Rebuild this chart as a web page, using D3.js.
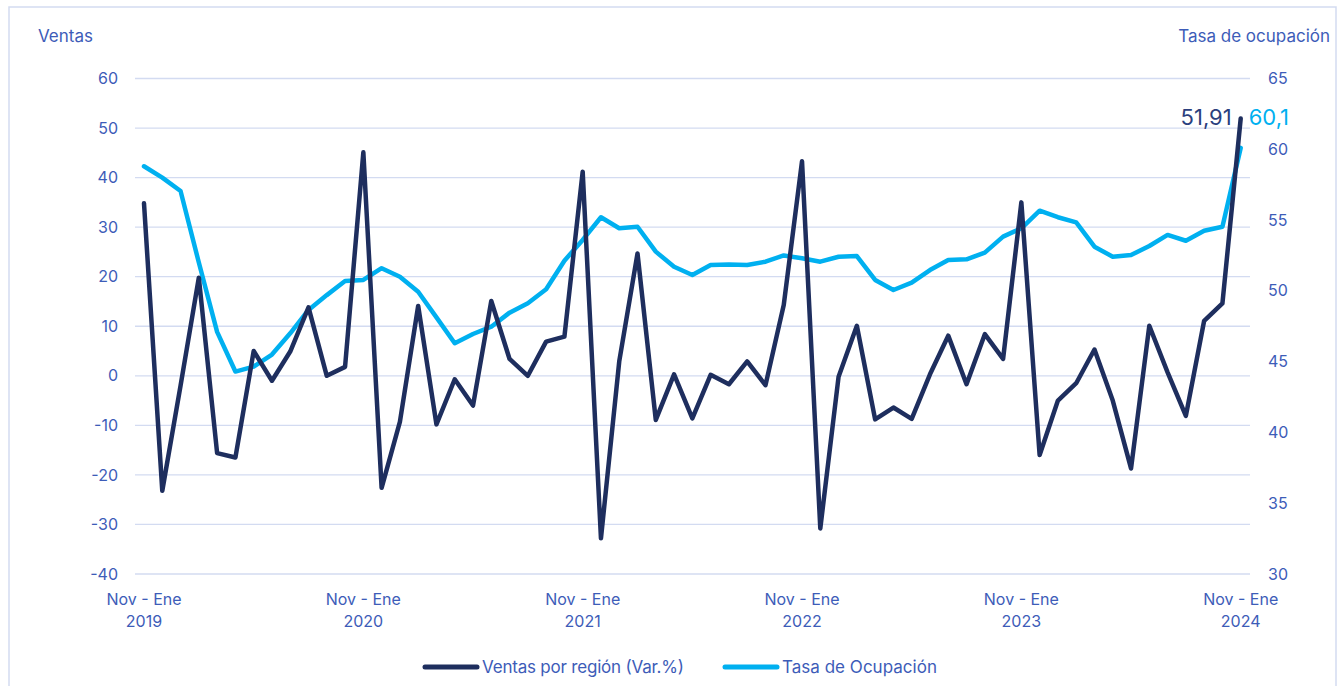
<!DOCTYPE html>
<html>
<head>
<meta charset="utf-8">
<script src="https://cdn.jsdelivr.net/npm/d3@7"></script>
<style>
  body { margin: 0; background: #fff; }
  text { font-family: Inter, "Liberation Sans", sans-serif; }
</style>
</head>
<body>
<svg width="1342" height="686"></svg>
<script>
// ventas por region, var.% (nov-ene 2019 .. nov-ene 2024, monthly)
var ventas = [34.8, -23.2, -2, 19.8, -15.6, -16.5, 5.0, -1.0, 4.9, 13.8, 0, 1.8,
  45.1, -22.6, -9.3, 14.1, -9.8, -0.7, -6.0, 15.1, 3.4, 0, 6.9, 7.9,
  41.2, -32.8, 2.9, 24.7, -8.9, 0.3, -8.6, 0.2, -1.7, 2.9, -1.9, 14.3,
  43.3, -30.8, -0.2, 10.1, -8.8, -6.4, -8.7, 0.3, 8.1, -1.7, 8.4, 3.4,
  35.0, -16.0, -5.0, -1.5, 5.3, -5.0, -18.7, 10.1, 0.7, -8.1, 11.1, 14.6,
  51.91];

// tasa de ocupacion
var tasa = [58.8, 58.0, 57.05, 52.0, 47.1, 44.3, 44.65, 45.5, 47.0, 48.65, 49.7, 50.7,
  50.77, 51.6, 51.0, 49.94, 48.13, 46.3, 46.95, 47.47, 48.46, 49.12, 50.11, 52.13,
  53.6, 55.2, 54.42, 54.53, 52.77, 51.7, 51.12, 51.83, 51.87, 51.83, 52.06, 52.5,
  52.3, 52.06, 52.41, 52.46, 50.77, 50.06, 50.58, 51.47, 52.18, 52.23, 52.7, 53.83,
  54.42, 55.66, 55.2, 54.84, 53.12, 52.41, 52.53, 53.17, 53.95, 53.54, 54.25, 54.53,
  60.1];

var xTickIdx = [0, 12, 24, 36, 48, 60];
var xTickLabels = [["Nov - Ene", "2019"], ["Nov - Ene", "2020"], ["Nov - Ene", "2021"],
  ["Nov - Ene", "2022"], ["Nov - Ene", "2023"], ["Nov - Ene", "2024"]];
var leftTicks = [60, 50, 40, 30, 20, 10, 0, -10, -20, -30, -40];
var rightTicks = [65, 60, 55, 50, 45, 40, 35, 30];

var svg = d3.select("svg");
var navy = "#1e2e5e", cyan = "#00b0f0", txt = "#3d5cb8", grid = "#d3dbf1";

svg.append("rect")
  .attr("x", 9).attr("y", 7).attr("width", 1327).attr("height", 690)
  .attr("fill", "none").attr("stroke", grid).attr("stroke-width", 1.5);

var x = d3.scaleLinear().domain([0, 60]).range([144, 1240.7]);
var yL = d3.scaleLinear().domain([-40, 60]).range([574, 78.5]);
var yR = d3.scaleLinear().domain([30, 65]).range([574, 78.5]);

// gridlines
svg.append("g").selectAll("line")
  .data(leftTicks).enter().append("line")
  .attr("x1", 135).attr("x2", 1250)
  .attr("y1", function(d) { return yL(d); })
  .attr("y2", function(d) { return yL(d); })
  .attr("stroke", grid).attr("stroke-width", 1.3);

var plain = function(d) { return String(d); };

// left axis
var gl = svg.append("g").attr("transform", "translate(118,0)")
  .call(d3.axisLeft(yL).tickValues(leftTicks).tickFormat(plain).tickSize(0).tickPadding(0));
gl.select(".domain").remove();
gl.selectAll("text").attr("fill", txt).attr("font-size", 16)
  .style("font-family", "Inter, sans-serif");

// right axis
var gr = svg.append("g").attr("transform", "translate(1268,0)")
  .call(d3.axisRight(yR).tickValues(rightTicks).tickFormat(plain).tickSize(0).tickPadding(0));
gr.select(".domain").remove();
gr.selectAll("text").attr("fill", txt).attr("font-size", 16)
  .style("font-family", "Inter, sans-serif");

// x labels
var xl = svg.append("g").selectAll("text")
  .data(xTickIdx).enter().append("text")
  .attr("x", function(d) { return x(d); })
  .attr("text-anchor", "middle")
  .attr("fill", txt).attr("font-size", 16);
xl.append("tspan").attr("x", function(d) { return x(d); }).attr("y", 605)
  .text(function(d, i) { return xTickLabels[i][0]; });
xl.append("tspan").attr("x", function(d) { return x(d); }).attr("y", 627)
  .text(function(d, i) { return xTickLabels[i][1]; });

svg.append("text").attr("x", 38).attr("y", 42).attr("fill", txt)
  .attr("font-size", 17).text("Ventas");
svg.append("text").attr("x", 1330).attr("y", 42).attr("fill", txt)
  .attr("text-anchor", "end").attr("font-size", 17).text("Tasa de ocupación");

// lines
var lineL = d3.line().x(function(d, i) { return x(i); }).y(function(d) { return yL(d); });
var lineR = d3.line().x(function(d, i) { return x(i); }).y(function(d) { return yR(d); });

svg.append("path").datum(tasa).attr("d", lineR)
  .attr("fill", "none").attr("stroke", cyan).attr("stroke-width", 4.5)
  .attr("stroke-linejoin", "round").attr("stroke-linecap", "round");
svg.append("path").datum(ventas).attr("d", lineL)
  .attr("fill", "none").attr("stroke", navy).attr("stroke-width", 4.5)
  .attr("stroke-linejoin", "round").attr("stroke-linecap", "round");

// end labels
svg.append("text").attr("x", x(60) - 9).attr("y", 125)
  .attr("text-anchor", "end").attr("fill", "#2b3f7e").attr("font-size", 22)
  .text("51,91");
svg.append("text").attr("x", x(60) + 8).attr("y", 125)
  .attr("fill", cyan).attr("font-size", 22)
  .text("60,1");

// legend
var legend = [{ name: "Ventas por región (Var.%)", color: navy, x: 423, w: 202 },
              { name: "Tasa de Ocupación", color: cyan, x: 723, w: 155 }];
var lg = svg.append("g").selectAll("g").data(legend).enter().append("g")
  .attr("transform", function(d) { return "translate(" + d.x + ",667)"; });
lg.append("line").attr("x1", 2).attr("x2", 54)
  .attr("stroke", function(d) { return d.color; })
  .attr("stroke-width", 5).attr("stroke-linecap", "round");
lg.append("text").attr("x", 59).attr("y", 6).attr("fill", txt)
  .attr("font-size", 17).attr("textLength", function(d) { return d.w; })
  .text(function(d) { return d.name; });
</script>
</body>
</html>
